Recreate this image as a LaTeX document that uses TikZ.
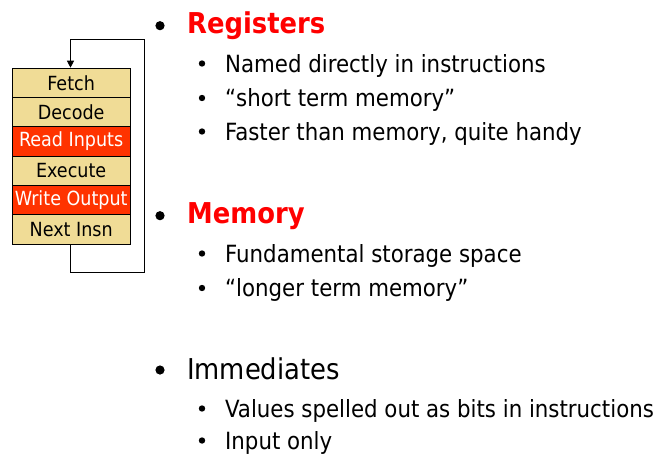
\documentclass[tikz,border=0pt]{standalone}
\usepackage{fontspec}
\setmainfont{DejaVu Sans Condensed}
\usetikzlibrary{arrows.meta}
\definecolor{tanfill}{RGB}{240,220,150}
\definecolor{redfill}{RGB}{255,51,0}
\definecolor{headred}{RGB}{255,0,0}
\begin{document}
\begin{tikzpicture}[x=1pt,y=-1pt,
  stage/.style={draw=black,line width=0.8pt,fill=tanfill,minimum width=117.5pt,minimum height=29.3pt,inner sep=0pt,anchor=north west,font=\fontsize{19.5}{21}\selectfont},
  hot/.style={stage,fill=redfill,text=white},
  head/.style={anchor=base west,inner sep=0pt,font=\fontsize{28.7}{30}\selectfont\bfseries,text=headred},
  plainhead/.style={anchor=base west,inner sep=0pt,font=\fontsize{28.7}{30}\selectfont},
  item/.style={anchor=base west,inner sep=0pt,font=\fontsize{23.7}{25}\selectfont},
  loop/.style={draw=black,line width=0.8pt}
]
\useasboundingbox (0,0) rectangle (661,455);
% stage stack
\node[stage] (fetch) at (12,67.7) {Fetch};
\node[stage] (decode) at (12,97) {Decode};
\node[hot] (read) at (12,126.3) {Read Inputs};
\node[stage] (exec) at (12,155.6) {Execute};
\node[hot] (write) at (12,184.9) {Write Output};
\node[stage] (next) at (12,214.2) {Next Insn};
\coordinate (lb) at (70.5,272);
\coordinate (rb) at (144,272);
\coordinate (rt) at (144,39);
\coordinate (lt) at (70.5,39);
\draw[loop,-{Triangle[length=7pt,width=7pt]}] (next.south -| lb) -- (lb) -- (rb) -- (rt) -- (lt) -- (fetch.north -| lt);
% text
\node[head] (reg) at (187,33.5) {Registers};
\node[item] (r1) at (225,72.3) {Named directly in instructions};
\node[item] (r2) at (225,106.7) {“short term memory”};
\node[item] (r3) at (225,140.5) {Faster than memory, quite handy};
\node[head] (mem) at (187,223.5) {Memory};
\node[item] (m1) at (225,262) {Fundamental storage space};
\node[item] (m2) at (225,296.5) {“longer term memory”};
\node[plainhead] (imm) at (187,379.5) {Immediates};
\node[item] (i1) at (225,417) {Values spelled out as bits in instructions};
\node[item] (i2) at (225,449) {Input only};
% bullets
\foreach \y in {25.7,215.7,370}{\fill (160,\y) circle (4.6pt);}
\foreach \y in {63.5,98,131.5,253.5,288,408.5,440.5}{\fill (202,\y) circle (3.2pt);}
\end{tikzpicture}
\end{document}
